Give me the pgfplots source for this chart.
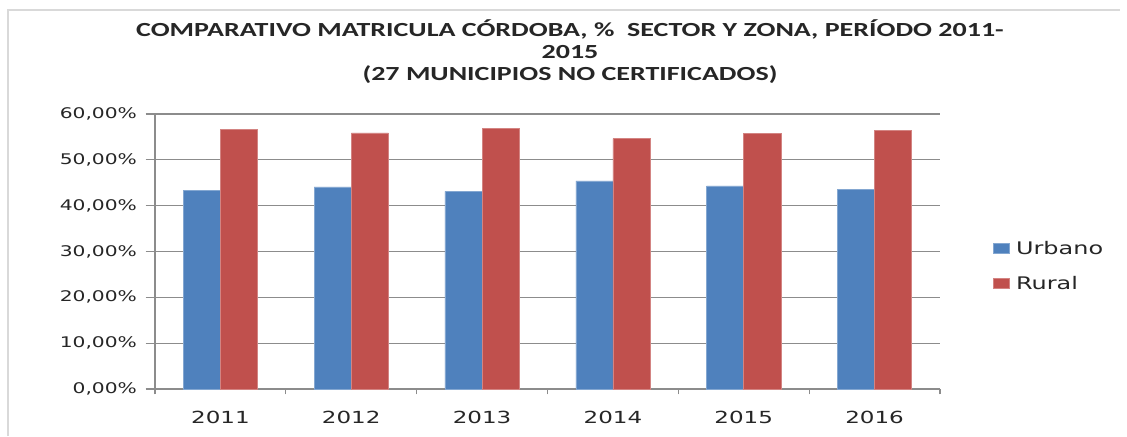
\documentclass[border=0pt]{standalone}
\usepackage{fontspec}
\usepackage{pgfplots}
\pgfplotsset{compat=1.18}
\setmainfont{DejaVu Sans}[FakeStretch=1.38]
\newfontfamily\titlefont{Carlito}[FakeStretch=1.4]
\definecolor{bblue}{HTML}{4F81BD}
\definecolor{rred}{HTML}{C0504D}
\definecolor{gridgray}{HTML}{8C8C8C}
\definecolor{framegray}{HTML}{D9D9D9}
\begin{document}
\begin{tikzpicture}
\useasboundingbox (0,0) rectangle (845.25pt,327pt);
% chart frame (left and top edges are the only visible ones)
\draw[framegray, line width=1pt] (6pt,0) -- (6pt,319.5pt) -- (840pt,319.5pt);
\node[font=\titlefont\bfseries\fontsize{15}{16.5}\selectfont, align=center, text=black!85]
  at (427.5pt,288pt)
  {COMPARATIVO MATRICULA CÓRDOBA, \%\ \ SECTOR Y ZONA, PERÍODO 2011-\\2015\\(27 MUNICIPIOS NO CERTIFICADOS)};
\begin{axis}[
  at={(116.25pt,35.25pt)}, anchor=south west,
  scale only axis,
  width=588.75pt, height=206.25pt,
  xmin=-0.5, xmax=5.5,
  ymin=0, ymax=60,
  axis x line=bottom, axis y line=left,
  axis line style={gridgray, line width=0.9pt, -},
  ybar=0pt, bar width=0.284,
  xtick={0,...,5},
  xticklabels={2011,2012,2013,2014,2015,2016},
  major x tick style={draw=none},
  minor xtick={-0.5,0.5,...,5.5},
  minor tick length=4pt,
  minor x tick style={gridgray, line width=0.9pt},
  ytick={0,10,...,60},
  ymajorgrids=true,
  grid style={gridgray, line width=0.9pt},
  major y tick style={gridgray, line width=0.9pt},
  major tick length=7pt,
  tick align=outside,
  /pgf/number format/assume math mode=true,
  yticklabel={\pgfmathprintnumber[fixed,fixed zerofill,precision=2,use comma]{\tick}\%},
  xticklabel style={font=\fontsize{12.5}{14}\selectfont, text=black!85, yshift=-6pt},
  yticklabel style={font=\fontsize{11}{13}\selectfont, text=black!85, xshift=-3pt},
  legend style={at={(1.062,0.447)}, anchor=west, draw=none,
    font=\fontsize{13}{15}\selectfont, row sep=11pt, column sep=3pt, text=black!85},
  legend cell align=left,
  legend image code/.code={\fill[#1] (0pt,-3.75pt) rectangle (12pt,3.75pt);},
]
\addplot[fill=bblue, draw=bblue!70!white] coordinates {(0,43.4) (1,44.1) (2,43.1) (3,45.4) (4,44.3) (5,43.6)};
\addplot[fill=rred, draw=rred!70!white] coordinates {(0,56.6) (1,55.9) (2,56.9) (3,54.6) (4,55.7) (5,56.4)};
\legend{Urbano, Rural}
\end{axis}
\end{tikzpicture}
\end{document}
